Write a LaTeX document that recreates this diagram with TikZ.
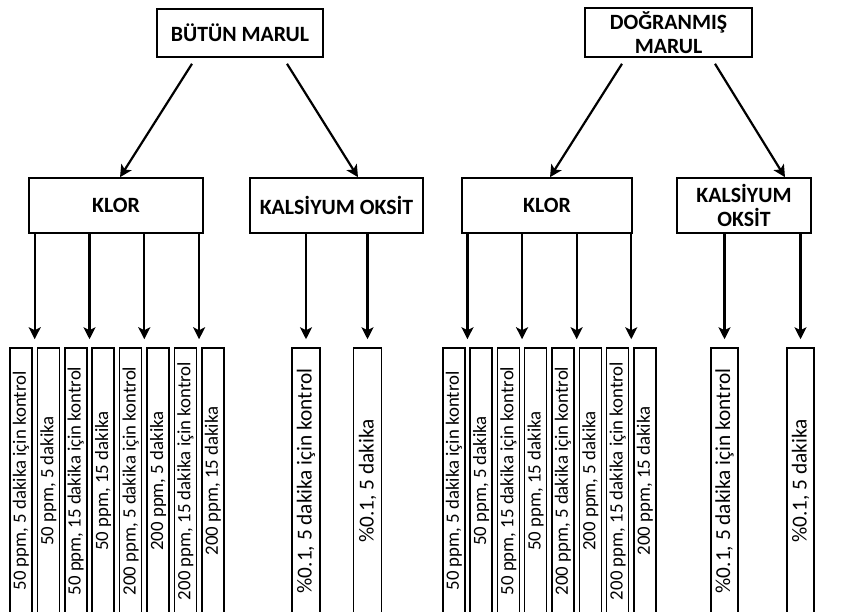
\documentclass[tikz,border=0pt]{standalone}
\usepackage{fontspec}
\setmainfont{Carlito}
\usetikzlibrary{arrows.meta,calc}
\tikzset{
  topbox/.style={draw, line width=1.6pt, align=center, font=\fontsize{21.8}{24.5}\selectfont\bfseries, inner sep=0pt},
  vbox/.style={draw, line width=1.5pt, inner sep=0pt, minimum height=266pt, font=\fontsize{18.8}{20}\selectfont},
  cbox/.style={vbox, font=\fontsize{21.3}{22}\selectfont},
  arr/.style={line width=2.2pt, -{Stealth[length=12pt,width=12pt,inset=3pt]}},
}
\newcommand{\vt}[1]{\rotatebox{90}{#1}}
\begin{document}
\begin{tikzpicture}[x=1pt,y=-1pt]
\useasboundingbox (0,0) rectangle (841,612);
\clip (0,0) rectangle (841,612);
% top boxes
\node[topbox, minimum width=166pt, minimum height=48pt] (t1) at (240,33) {BÜTÜN MARUL};
\node[topbox, minimum width=167pt, minimum height=49pt] (t2) at (668.5,32.5) {DOĞRANMIŞ\\MARUL};
% middle boxes
\node[topbox, minimum width=174pt, minimum height=55pt] (k1) at (116,205.5) {KLOR};
\node[topbox, minimum width=173pt, minimum height=55pt] (c1) at (336.5,205.5) {KALSİYUM OKSİT};
\node[topbox, minimum width=170pt, minimum height=55pt] (k2) at (547,205.5) {KLOR};
\node[topbox, minimum width=134pt, minimum height=55pt] (c2) at (744,205.5) {KALSİYUM\\OKSİT};
% top arrows
\draw[arr] ([xshift=-48pt,yshift=-6pt]t1.south) -- ([xshift=4pt]k1.north);
\draw[arr] ([xshift=47pt,yshift=-6pt]t1.south) -- ([xshift=21.5pt]c1.north);
\draw[arr] ([xshift=-46.5pt,yshift=-6pt]t2.south) -- ([xshift=3pt]k2.north);
\draw[arr] ([xshift=46.5pt,yshift=-6pt]t2.south) -- ([xshift=41pt]c2.north);
% bottom boxes, left group
\foreach \n/\x/\t in {1/21/{50 ppm, 5 dakika için kontrol},2/48.4/{50 ppm, 5 dakika},3/75.8/{50 ppm, 15 dakika için kontrol},4/103.2/{50 ppm, 15 dakika},5/130.6/{200 ppm, 5 dakika için kontrol},6/158/{200 ppm, 5 dakika},7/185.4/{200 ppm, 15 dakika için kontrol},8/212.8/{200 ppm, 15 dakika}}
  \node[vbox, minimum width=22pt] (a\n) at (\x,481) {\vt{\t}};
\foreach \n/\x/\t in {1/306/{\%0.1, 5 dakika için kontrol},2/367.5/{\%0.1, 5 dakika}}
  \node[cbox, minimum width=28pt] (ca\n) at (\x,481) {\vt{\t}};
% bottom boxes, right group
\foreach \n/\x/\t in {1/453.8/{50 ppm, 5 dakika için kontrol},2/481.1/{50 ppm, 5 dakika},3/508.4/{50 ppm, 15 dakika için kontrol},4/535.7/{50 ppm, 15 dakika},5/563/{200 ppm, 5 dakika için kontrol},6/590.3/{200 ppm, 5 dakika},7/617.6/{200 ppm, 15 dakika için kontrol},8/644.9/{200 ppm, 15 dakika}}
  \node[vbox, minimum width=22pt] (b\n) at (\x,481) {\vt{\t}};
\foreach \n/\x/\t in {1/724.5/{\%0.1, 5 dakika için kontrol},2/800.5/{\%0.1, 5 dakika}}
  \node[cbox, minimum width=27pt] (cb\n) at (\x,481) {\vt{\t}};
% vertical arrows
\foreach \p/\q in {1/2,3/4,5/6,7/8}{
  \coordinate (ga\p) at ($(a\p.north east)!0.5!(a\q.north west)$);
  \draw[arr, shorten >=8pt] (ga\p |- k1.south) -- (ga\p);
}
\foreach \p/\q in {1/2,3/4,5/6,7/8}{
  \coordinate (gb\p) at ($(b\p.north east)!0.5!(b\q.north west)$);
  \draw[arr, shorten >=8pt] (gb\p |- k2.south) -- (gb\p);
}
\foreach \p in {1,2}{
  \draw[arr, shorten >=8pt] (ca\p.north |- c1.south) -- (ca\p.north);
  \draw[arr, shorten >=8pt] (cb\p.north |- c2.south) -- (cb\p.north);
}
\end{tikzpicture}
\end{document}
